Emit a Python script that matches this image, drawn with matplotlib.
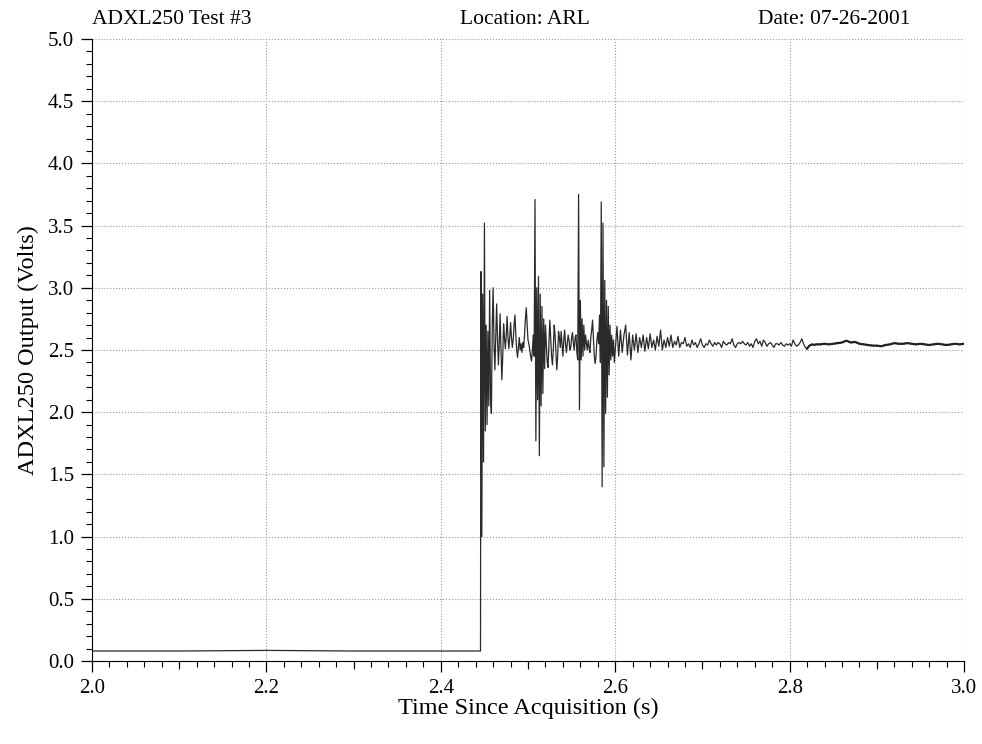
import numpy as np
import matplotlib
matplotlib.use("Agg")
import matplotlib.pyplot as plt
from matplotlib.ticker import MultipleLocator

plt.rcParams['font.family'] = ['Liberation Serif', 'DejaVu Serif']

# flat part before the impact
base_t = [2.0, 2.1, 2.2, 2.3, 2.4, 2.4455]
base_v = [0.08, 0.08, 0.085, 0.08, 0.08, 0.08]

# impact bursts, 1 ms samples from 2.446 s
burst_t0, burst_dt = 2.446, 0.001
burst_v = [
    3.13, 1.00, 2.95, 1.60, 3.52, 1.85, 2.70, 1.90, 2.65, 2.05,
    2.98, 2.10, 1.99, 2.70, 3.00, 2.55, 2.34, 2.60, 2.87, 2.60,
    2.38, 2.55, 2.79, 2.50, 2.26, 2.45, 2.71, 2.60, 2.51, 2.62,
    2.77, 2.60, 2.51, 2.60, 2.72, 2.60, 2.52, 2.58, 2.70, 2.78,
    2.62, 2.50, 2.44, 2.52, 2.60, 2.50, 2.55, 2.48, 2.56, 2.52,
    2.62, 2.75, 2.84, 2.70, 2.58, 2.55, 2.50, 2.45, 2.41, 2.50,
    2.62, 2.45, 3.71, 1.77, 3.00, 2.10, 3.09, 1.65, 2.95, 2.05,
    2.85, 2.15, 2.75, 2.35, 2.70, 2.55, 2.40, 2.36, 2.55, 2.74,
    2.60, 2.45, 2.38, 2.50, 2.70, 2.62, 2.48, 2.34, 2.45, 2.65,
    2.60, 2.52, 2.65, 2.55, 2.45, 2.58, 2.66, 2.55, 2.48, 2.55,
    2.62, 2.58, 2.50, 2.52, 2.60, 2.64, 2.55, 2.50, 2.60, 2.62,
    2.48, 2.42, 3.75, 2.02, 2.90, 2.42, 2.75, 2.45, 2.70, 2.50,
    2.62, 2.55, 2.50, 2.58, 2.52, 2.48, 2.60, 2.66, 2.74, 2.60,
    2.45, 2.39, 2.45, 2.58, 2.64, 2.55, 2.78, 2.40, 3.69, 1.40,
    3.52, 1.56, 3.06, 1.99, 2.90, 2.12, 2.85, 2.30, 2.70, 2.42,
    2.62, 2.45, 2.58, 2.40, 2.50,
]

# ringing down, 2 ms samples from 2.602 s
ring_t0, ring_dt = 2.602, 0.002
ring_v = [
    2.69, 2.45, 2.66, 2.48, 2.62, 2.70, 2.46, 2.64, 2.42, 2.62,
    2.50, 2.63, 2.48, 2.60, 2.52, 2.62, 2.49, 2.60, 2.51, 2.63,
    2.52, 2.58, 2.50, 2.61, 2.53, 2.66, 2.50, 2.58, 2.52, 2.60,
    2.53, 2.62, 2.52, 2.57, 2.54, 2.61, 2.52, 2.56, 2.55, 2.60,
    2.53, 2.55, 2.52, 2.58, 2.54, 2.56, 2.52, 2.55, 2.59, 2.54,
    2.52, 2.55, 2.54, 2.58, 2.55, 2.53, 2.56, 2.54, 2.56, 2.55,
    2.52, 2.57, 2.55, 2.54, 2.56, 2.55, 2.59, 2.54, 2.52, 2.55,
    2.56, 2.55, 2.57, 2.55, 2.54, 2.56, 2.53, 2.55, 2.52, 2.57,
    2.59, 2.55, 2.57, 2.53, 2.58, 2.56, 2.53, 2.55, 2.56, 2.54,
    2.52, 2.55, 2.55, 2.54, 2.56, 2.54, 2.53, 2.55, 2.54, 2.55,
    2.53, 2.58, 2.55, 2.53, 2.54, 2.56, 2.59, 2.55, 2.52, 2.51,
    2.53, 2.54, 2.545, 2.54, 2.545,
]

# settled output, 5 ms samples from 2.835 s
tail_t0, tail_dt = 2.835, 0.005
tail_v = [
    2.545, 2.55, 2.545, 2.55, 2.555, 2.56, 2.575, 2.56, 2.565, 2.55,
    2.545, 2.54, 2.535, 2.535, 2.53, 2.54, 2.545, 2.555, 2.55, 2.55,
    2.555, 2.55, 2.545, 2.55, 2.545, 2.54, 2.545, 2.55, 2.545, 2.54,
    2.545, 2.55, 2.545, 2.55,
]

t = np.concatenate([
    base_t,
    burst_t0 + burst_dt * np.arange(len(burst_v)),
    ring_t0 + ring_dt * np.arange(len(ring_v)),
    tail_t0 + tail_dt * np.arange(len(tail_v)),
])
v = np.concatenate([base_v, burst_v, ring_v, tail_v])

fig = plt.figure(figsize=(9.82, 7.44), dpi=100)
ax = fig.add_axes([0.0937, 0.1116, 0.888, 0.836])

ax.plot(t, v, color='#2a2a2a', lw=0.9)
# the settled part looks heavier in the original (small noise)
late = t >= 2.82
ax.plot(t[late], v[late], color='#222222', lw=1.6)

ax.set_xlim(2.0, 3.0)
ax.set_ylim(0.0, 5.0)
ax.xaxis.set_major_locator(MultipleLocator(0.2))
ax.xaxis.set_minor_locator(MultipleLocator(0.02))
ax.yaxis.set_major_locator(MultipleLocator(0.5))
ax.yaxis.set_minor_locator(MultipleLocator(0.1))
ax.xaxis.set_major_formatter(lambda x, pos: f"{x:.1f}")
ax.yaxis.set_major_formatter(lambda x, pos: f"{x:.1f}")

ax.tick_params(which='major', direction='out', length=8, width=0.9, labelsize=15, pad=5)
ax.tick_params(which='minor', direction='out', length=4, width=0.8)

# medium ticks at the odd tenths
sec = ax.secondary_xaxis('bottom')
sec.set_xticks([2.1, 2.3, 2.5, 2.7, 2.9])
sec.tick_params(direction='out', length=6, width=0.8, labelbottom=False)
sec.spines['bottom'].set_visible(False)

ax.grid(True, which='major', linestyle=':', color='#999999', lw=0.8)
ax.spines['top'].set_visible(False)
ax.spines['right'].set_visible(False)

ax.set_xlabel("Time Since Acquisition (s)", fontsize=17.5, labelpad=0)
ax.set_ylabel("ADXL250 Output (Volts)", fontsize=17.5, labelpad=6)

fig.text(0.0937, 0.974, "ADXL250 Test #3", fontsize=15.5, ha='left', va='center')
fig.text(0.535, 0.974, "Location: ARL", fontsize=15.5, ha='center', va='center')
fig.text(0.927, 0.974, "Date: 07-26-2001", fontsize=15.5, ha='right', va='center')

fig.savefig("out.png", dpi=100)
